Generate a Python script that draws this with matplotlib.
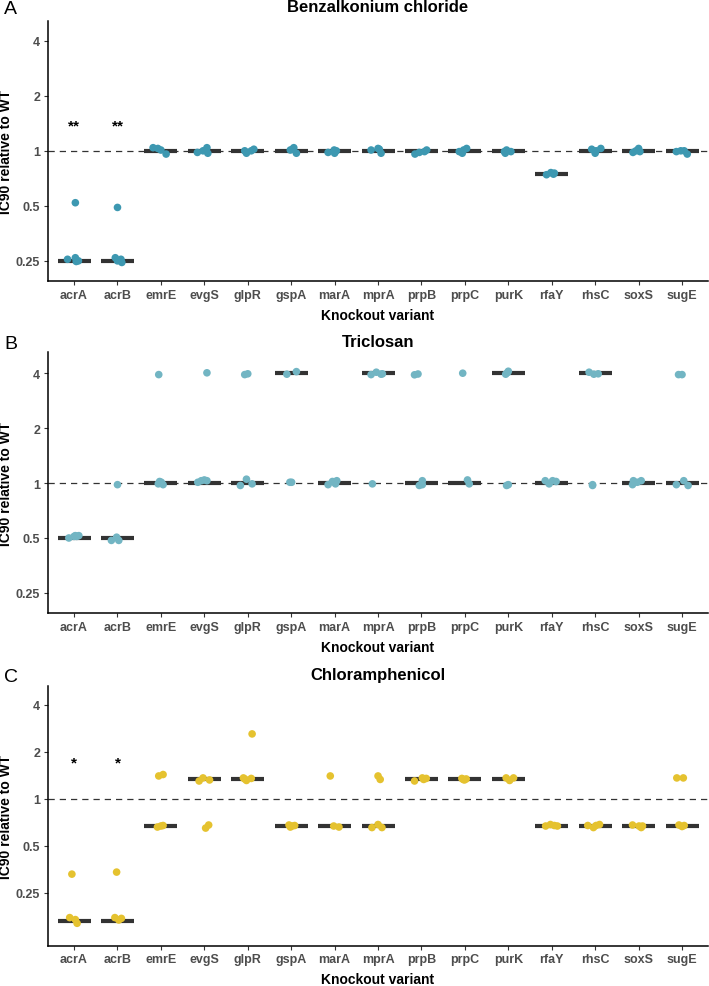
import matplotlib.pyplot as plt
import numpy as np

plt.rcParams['font.family'] = ['Liberation Sans', 'DejaVu Sans']

variants = ['acrA', 'acrB', 'emrE', 'evgS', 'glpR', 'gspA', 'marA', 'mprA',
            'prpB', 'prpC', 'purK', 'rfaY', 'rhsC', 'soxS', 'sugE']

# Benzalkonium chloride
bac_med = [0.25, 0.25, 1, 1, 1, 1, 1, 1, 1, 1, 1, 0.75, 1, 1, 1]
bac_vals = [
    [0.255, 0.26, 0.25, 0.248, 0.52],
    [0.26, 0.25, 0.245, 0.255, 0.49],
    [1.04, 1.03, 1.01, 0.96],
    [0.98, 1.0, 1.04, 0.97],
    [1.0, 0.97, 1.0, 1.02],
    [1.01, 1.04, 0.97, 1.02],
    [0.98, 0.97, 1.0, 1.01],
    [1.01, 1.03, 0.97, 1.02],
    [0.96, 0.98, 0.99, 1.01],
    [0.99, 0.97, 1.03, 1.01],
    [0.99, 0.97, 0.99, 1.01],
    [0.74, 0.76, 0.755, 0.745],
    [1.02, 0.97, 1.03, 1.0],
    [0.98, 1.03, 0.99, 1.0],
    [0.99, 1.0, 0.96, 1.0],
]
bac_jit = [
    [-0.15, 0.03, 0.1, 0.05, 0.03],
    [-0.05, 0.0, 0.1, 0.08, 0.0],
    [-0.18, -0.07, 0.0, 0.12],
    [-0.16, -0.03, 0.06, 0.08],
    [-0.07, -0.03, 0.08, 0.14],
    [-0.02, 0.06, 0.12, 0.03],
    [-0.15, 0.0, 0.04, -0.01],
    [-0.16, 0.0, 0.07, 0.03],
    [-0.15, -0.05, 0.07, 0.12],
    [-0.13, -0.06, 0.04, -0.03],
    [-0.09, -0.07, 0.06, -0.04],
    [-0.12, -0.02, 0.06, 0.04],
    [-0.08, 0.0, 0.13, 0.02],
    [-0.13, 0.0, 0.03, -0.06],
    [-0.13, -0.03, 0.12, 0.05],
]

# Triclosan
tcs_med = [0.5, 0.5, 1, 1, 1, 4, 1, 4, 1, 1, 4, 1, 4, 1, 1]
tcs_vals = [
    [0.5, 0.51, 0.515, 0.51, 0.515],
    [0.485, 0.505, 0.485, 0.98],
    [3.93, 0.99, 1.01, 0.98, 1.02],
    [4.02, 1.01, 1.03, 1.04, 1.03],
    [3.93, 3.97, 0.97, 1.05, 0.99],
    [3.95, 4.08, 1.01, 1.01],
    [0.98, 1.02, 1.03, 0.99],
    [3.93, 4.05, 3.95, 3.97, 0.99],
    [3.92, 3.96, 0.97, 1.03, 0.98],
    [4.0, 1.04, 0.99],
    [3.95, 4.1, 4.03, 0.98, 0.97],
    [1.03, 0.99, 1.03, 1.02],
    [4.05, 3.95, 3.97, 0.98, 0.97],
    [0.98, 1.03, 1.03, 1.01],
    [3.93, 3.93, 0.98, 1.03, 0.97],
]
tcs_jit = [
    [-0.12, 0.0, 0.11, 0.06, 0.03],
    [-0.14, -0.02, 0.03, 0.0],
    [-0.05, -0.06, 0.01, 0.05, -0.03],
    [0.06, -0.15, -0.07, 0.0, 0.06],
    [-0.07, 0.0, -0.17, -0.03, 0.1],
    [-0.1, 0.12, -0.03, 0.01],
    [-0.15, -0.05, 0.05, 0.02],
    [-0.16, -0.04, 0.07, 0.1, -0.13],
    [-0.16, -0.08, -0.05, 0.02, 0.02],
    [-0.05, 0.06, 0.1],
    [-0.06, 0.0, -0.02, 0.0, -0.04],
    [-0.15, -0.06, 0.02, 0.1],
    [-0.14, -0.03, 0.07, -0.06, -0.06],
    [-0.14, -0.12, 0.06, -0.03],
    [-0.08, 0.0, -0.13, 0.04, 0.14],
]

# Chloramphenicol
chl_med = [1/6, 1/6, 2/3, 4/3, 4/3, 2/3, 2/3, 2/3, 4/3, 4/3, 4/3, 2/3, 2/3, 2/3, 2/3]
chl_vals = [
    [0.174, 0.169, 0.16, 0.33],
    [0.174, 0.168, 0.172, 0.34],
    [1.4, 1.43, 0.66, 0.675, 0.67],
    [1.3, 1.36, 1.32, 0.65, 0.68],
    [2.6, 1.34, 1.31, 1.35, 1.36],
    [0.68, 0.66, 0.675, 0.67],
    [1.4, 0.67, 0.66],
    [1.4, 1.33, 0.655, 0.685, 0.655],
    [1.3, 1.36, 1.33, 1.35],
    [1.35, 1.32, 1.34, 1.33],
    [1.36, 1.31, 1.36],
    [0.67, 0.685, 0.675, 0.67],
    [0.675, 0.655, 0.675, 0.685],
    [0.68, 0.67, 0.655, 0.67],
    [1.36, 1.36, 0.68, 0.665, 0.675],
]
chl_jit = [
    [-0.1, 0.03, 0.07, -0.05],
    [-0.06, 0.03, 0.09, -0.02],
    [-0.05, 0.05, -0.08, 0.05, 0.0],
    [-0.12, -0.03, 0.12, 0.03, 0.1],
    [0.1, -0.07, -0.03, 0.08, -0.1],
    [-0.05, -0.02, 0.08, 0.02],
    [-0.1, -0.02, 0.1],
    [0.0, 0.05, -0.14, 0.0, 0.09],
    [-0.16, 0.02, 0.05, 0.11],
    [-0.07, -0.01, 0.03, -0.04],
    [-0.05, 0.03, 0.12],
    [-0.14, -0.03, 0.06, 0.13],
    [-0.17, -0.04, 0.02, 0.1],
    [-0.14, 0.01, 0.06, 0.09],
    [-0.12, 0.03, -0.07, 0.0, 0.05],
]

panels = [
    ('A', 'Benzalkonium chloride', bac_med, bac_vals, bac_jit, '#3d98b1',
     (0.194, 5.13), '**', 1.37),
    ('B', 'Triclosan', tcs_med, tcs_vals, tcs_jit, '#72b5c3',
     (0.194, 5.23), None, None),
    ('C', 'Chloramphenicol', chl_med, chl_vals, chl_jit, '#e5c22f',
     (0.115, 5.29), '*', 1.70),
]
# axes boxes in figure fractions: left, bottom, width, height
boxes = [
    (0.0677, 0.7143, 0.931, 0.2634),
    (0.0677, 0.3779, 0.931, 0.2645),
    (0.0677, 0.0408, 0.931, 0.2635),
]
label_y = [0.990, 0.651, 0.314]
title_y = [0.9919, 0.6525, 0.3161]

fig = plt.figure(figsize=(7.09, 9.87), dpi=100)

for (tag, title, med, vals, jit, col, ylim, star, star_y), box, ly, ty in zip(
        panels, boxes, label_y, title_y):
    ax = fig.add_axes(box)
    ax.set_yscale('log', base=2)
    ax.axhline(1, color='#333333', lw=0.9, ls=(0, (5, 4)), zorder=1)
    x = np.arange(len(variants))
    ax.hlines(med, x - 0.38, x + 0.38, color='#333333', lw=3, zorder=2)
    for i in range(len(variants)):
        ax.scatter(i + np.array(jit[i]), vals[i], s=30, color=col,
                   edgecolors='none', zorder=3)
    if star:
        for i in (0, 1):
            ax.text(i, star_y, star, ha='center', va='center', fontsize=11,
                    fontweight='bold')
    ax.set_xlim(-0.6, len(variants) - 0.4)
    ax.set_ylim(*ylim)
    ax.set_yticks([0.25, 0.5, 1, 2, 4])
    ax.set_yticklabels(['0.25', '0.5', '1', '2', '4'])
    ax.yaxis.set_minor_locator(plt.NullLocator())
    ax.set_xticks(x)
    ax.set_xticklabels(variants)
    for s in ('top', 'right'):
        ax.spines[s].set_visible(False)
    for s in ('left', 'bottom'):
        ax.spines[s].set_linewidth(1.1)
    ax.tick_params(length=3, width=0.8, color='#333333', labelcolor='#4d4d4d',
                   labelsize=9, pad=2.5)
    for t in ax.get_xticklabels() + ax.get_yticklabels():
        t.set_fontweight('bold')
    ax.set_xlabel('Knockout variant', fontsize=10, fontweight='bold', labelpad=5)
    ax.set_ylabel('IC90 relative to WT', fontsize=10, fontweight='bold')
    ax.yaxis.set_label_coords(-0.053, 0.5)
    fig.text(box[0] + box[2] / 2, ty, title, fontsize=12, fontweight='bold',
             ha='center', va='center')
    fig.text(0.006, ly, tag, fontsize=14, ha='left', va='center')

fig.savefig('out.png', dpi=100)
